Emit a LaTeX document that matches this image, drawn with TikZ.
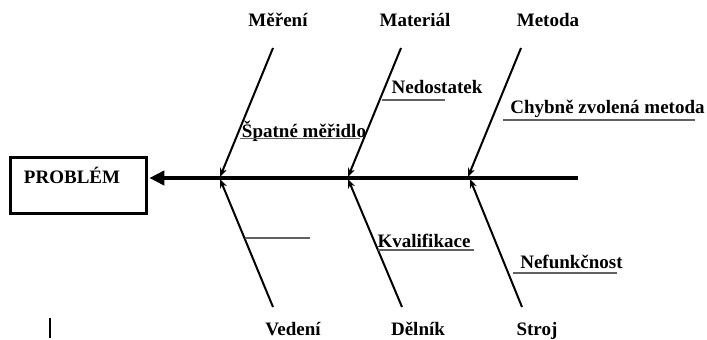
\documentclass[tikz,border=0pt]{standalone}
\usepackage{fontspec}
\setmainfont{Liberation Serif}
\usetikzlibrary{arrows.meta}
\begin{document}
\begin{tikzpicture}[x=1pt,y=-1pt,
  lbl/.style={font=\fontsize{19}{22}\selectfont\bfseries, inner sep=0pt, anchor=base},
  bone/.style={line width=2pt, -{Stealth[length=9pt,width=7pt]}},
  subline/.style={line width=1.4pt, draw=black!62},
  spine/.style={line width=4pt, -{Triangle[length=15pt,width=14pt]}},
]
\useasboundingbox (0,0) rectangle (707,340);
% problem box
\node[draw, line width=2.6pt, minimum width=136pt, minimum height=56pt, inner sep=0pt] (box) at (78.5,185.5) {};
\node[lbl] (prob) at (72,183) {PROBLÉM};
% spine
\coordinate (spineend) at (578,178);
\draw[spine] (spineend) -- ([xshift=1.5pt]spineend -| box.east);
% top categories
\node[lbl] (mer) at (278,27) {Měření};
\node[lbl] (mat) at (415,27) {Materiál};
\node[lbl] (met) at (548,27) {Metoda};
\coordinate (mer0) at (273,48); \coordinate (mer1) at (220,177);
\coordinate (mat0) at (401,48); \coordinate (mat1) at (348,177);
\coordinate (met0) at (521,48); \coordinate (met1) at (468,177);
\draw[bone] (mer0) -- (mer1);
\draw[bone] (mat0) -- (mat1);
\draw[bone] (met0) -- (met1);
% bottom categories
\node[lbl] (ved) at (293,335) {Vedení};
\node[lbl] (del) at (418,335) {Dělník};
\node[lbl] (str) at (537,335) {Stroj};
\coordinate (ved0) at (273,307); \coordinate (ved1) at (220,179);
\coordinate (del0) at (402,307); \coordinate (del1) at (348,179);
\coordinate (str0) at (522,307); \coordinate (str1) at (470,179);
\draw[bone] (ved0) -- (ved1);
\draw[bone] (del0) -- (del1);
\draw[bone] (str0) -- (str1);
% causes
\node[lbl] (ned) at (437,93) {Nedostatek};
\draw[subline] (382,100) -- (445,100);
\node[lbl] (spm) at (304,137) {Špatné měřidlo};
\draw[subline] (240,138.5) -- (360,138.5);
\node[lbl] (chm) at (607.5,113) {Chybně zvolená metoda};
\draw[subline] (503,120) -- (695,120);
\draw[subline] (245,238) -- (310,238);
\node[lbl] (kva) at (424,247) {Kvalifikace};
\draw[subline] (378,250) -- (474,250);
\node[lbl] (nef) at (571.5,268) {Nefunkčnost};
\draw[subline] (513,273) -- (617,273);
% cursor mark
\draw[line width=2pt] (50,318) -- (50,338);
\end{tikzpicture}
\end{document}
